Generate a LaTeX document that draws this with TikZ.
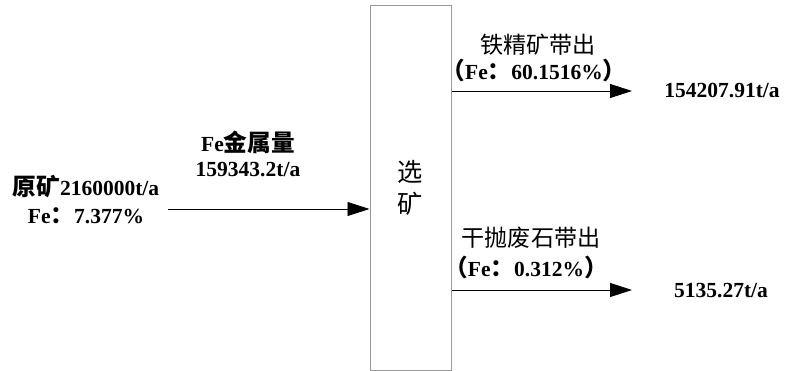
\documentclass[tikz,border=0pt]{standalone}
\usepackage{fontspec}
\setmainfont{Liberation Serif}
\newfontfamily\cjk[Scale=1.1]{Noto Sans CJK SC}
\usetikzlibrary{arrows.meta}
\tikzset{
  lbl/.style={inner sep=0pt, anchor=center, font=\fontsize{21.5}{24}\selectfont\bfseries},
  lblr/.style={inner sep=0pt, anchor=center, font=\fontsize{21}{24}\selectfont},
  arr/.style={draw=black, line width=0.8pt, -{Triangle[length=22pt,width=14pt]}},
  boxst/.style={draw=gray!80, line width=1pt, minimum width=81pt, minimum height=364pt, inner sep=0pt}
}
\begin{document}
\begin{tikzpicture}[x=1pt,y=-1pt]
\useasboundingbox (0,0) rectangle (786,371);
\node[boxst] (sel) at (410.5,188) {};
\node[lblr] (t1) at (410,172) {\fontsize{23}{28}\selectfont\cjk 选};
\node[lblr] (t2) at (410,204) {\fontsize{23}{28}\selectfont\cjk 矿};
% input
\node[lbl] (raw1) at (86,187) {{\cjk 原矿}2160000t/a};
\node[lbl] (raw2) at (86,216) {Fe{\cjk ：}7.377\%};
\node[lbl] (fe1) at (248,142) {Fe{\cjk 金属量}};
\node[lbl] (fe2) at (248,170) {159343.2t/a};
\coordinate (inA) at (168,209);
\draw[arr] (inA) -- (inA -| sel.west);
% top output
\node[lblr] (c1) at (538,45) {\cjk 铁精矿带出};
\node[lbl] (c2) at (534,71) {{\cjk （}Fe{\cjk ：}60.1516\%{\cjk ）}};
\node[lbl] (c3) at (722,91) {154207.91t/a};
\coordinate (outA) at (632,91);
\draw[arr] (sel.east |- outA) -- (outA);
% bottom output
\node[lblr] (w1) at (531,238) {\cjk 干抛废石带出};
\node[lbl] (w2) at (526,268) {{\cjk （}Fe{\cjk ：}0.312\%{\cjk ）}};
\node[lbl] (w3) at (721,291) {5135.27t/a};
\coordinate (outB) at (632,290);
\draw[arr] (sel.east |- outB) -- (outB);
\end{tikzpicture}
\end{document}
